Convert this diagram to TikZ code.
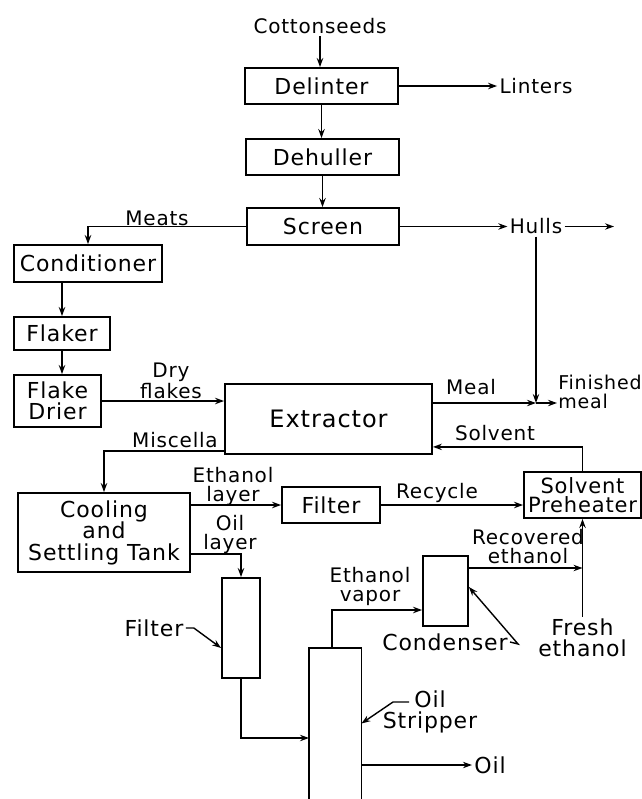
\documentclass[tikz,border=0pt]{standalone}
\usepackage{fontspec}
\setmainfont{DejaVu Sans}[LetterSpace=4]
\usetikzlibrary{arrows.meta,positioning}

\begin{document}
\begin{tikzpicture}[x=0.5pt, y=-0.5pt,
  font=\fontsize{10}{9.5}\selectfont,
  unit/.style={draw, line width=0.9pt, inner sep=1pt, align=center, font=\fontsize{11}{10.75}\selectfont},
  lbl/.style={inner sep=1pt, align=center},
  arr/.style={-{Stealth[length=4.5pt,width=3.2pt]}, line width=0.7pt},
  flow/.style={line width=0.7pt}
]
\useasboundingbox (0,0) rectangle (642,799);

% process units
\node[unit, minimum width=76.5pt, minimum height=18pt] (delint) at (321.5,86) {Delinter};
\node[unit, minimum width=76.5pt, minimum height=18pt] (dehull) at (322.5,157) {Dehuller};
\node[unit, minimum width=76pt, minimum height=18.5pt] (screen) at (323,226.5) {Screen};
\node[unit, minimum width=74pt, minimum height=18.5pt] (cond) at (88,263.5) {Conditioner};
\node[unit, minimum width=48pt, minimum height=16.5pt] (flaker) at (62,333.5) {Flaker};
\node[unit, minimum width=43.5pt, minimum height=26pt] (drier) at (57.5,401) {Flake\\Drier};
\node[unit, minimum width=103.5pt, minimum height=35pt, font=\fontsize{12}{12}\selectfont] (extr) at (328.5,419) {Extractor};
\node[unit, minimum width=86pt, minimum height=39.5pt] (cool) at (104,532.5) {Cooling\\and\\Settling Tank};
\node[unit, minimum width=49pt, minimum height=18pt] (filt) at (331,505) {Filter};
\node[unit, minimum width=58.5pt, minimum height=23pt, font=\fontsize{10.5}{9.5}\selectfont] (preheat) at (582.5,495) {Solvent\\Preheater};
\node[unit, minimum width=19pt, minimum height=50pt] (filt2) at (241,628) {};
\node[unit, minimum width=22.5pt, minimum height=35pt] (cond2) at (445.5,591) {};
\node[minimum width=26pt, minimum height=75.5pt, inner sep=0pt] (strip) at (335,723.5) {};
\draw[line width=0.9pt] (strip.south west) -- (strip.north west) -- (strip.north east) -- (strip.south east);

% stream labels
\node[lbl] (seeds) at (320,26) {Cottonseeds};
\node[lbl] (lint) at (536,86) {Linters};
\node[lbl] (meats) at (157,218) {Meats};
\node[lbl] (hulls) at (536,226.5) {Hulls};
\node[lbl] (dry) at (171,381) {Dry\\flakes};
\node[lbl] (meal) at (471,387) {Meal};
\node[lbl, anchor=west, align=left, inner sep=0.5pt, font=\fontsize{9.5}{9.5}\selectfont] (fmeal) at (557,392) {Finished\\meal};
\node[lbl] (solv) at (495,433) {Solvent};
\node[lbl] (misc) at (175,440) {Miscella};
\node[lbl] (ethl) at (233,486) {Ethanol\\layer};
\node[lbl] (recy) at (437,493) {Recycle};
\node[lbl] (oill) at (230,534) {Oil\\layer};
\node[lbl] (recov) at (528,547) {Recovered\\ethanol};
\node[lbl] (vapor) at (370,586) {Ethanol\\vapor};
\node[lbl, font=\fontsize{11}{10.5}\selectfont] (filtlab) at (154,628) {Filter};
\node[lbl, font=\fontsize{11}{10.5}\selectfont] (fresh) at (582.5,638) {Fresh\\ethanol};
\node[lbl, font=\fontsize{11}{10.5}\selectfont] (condlab) at (445,642) {Condenser};
\node[lbl, font=\fontsize{11}{10.5}\selectfont] (striplab) at (430,712) {Oil\\Stripper};
\node[lbl, font=\fontsize{11}{10.5}\selectfont] (oil) at (490,765) {Oil};

\coordinate (hout) at (614,226.5);
\coordinate (jmeal) at (536,403);
\coordinate (rec) at (582.5,568);
\coordinate (oilin) at (309,738);
\coordinate (vapout) at (332,648);
\coordinate (oiltick) at (409,702);

% main line
\draw[arr] (seeds.south) -- (delint.north -| seeds.south);
\draw[arr] (delint.east) -- (lint);
\draw[arr] (delint.south) -- (dehull.north -| delint.south);
\draw[arr] (dehull) -- (screen.north -| dehull);
\draw[arr] (screen) -- (hulls);
\draw[arr] (hulls) -- (hout);
\draw[arr] (screen.west) -| (cond.north);
\draw[arr] (cond.south -| flaker) -- (flaker.north);
\draw[arr] (flaker.south) -- (drier.north -| flaker.south);
\draw[arr] (drier) -- (drier -| extr.west);

% meal and solvent
\draw[arr] (hulls.south) -- (jmeal);
\draw[arr] (jmeal -| extr.east) -- (jmeal);
\draw[arr] (jmeal) -- (jmeal -| fmeal.west);
\draw[arr] (preheat.north) |- ([yshift=4pt]extr.south east);
\draw[arr] ([yshift=2pt]extr.south west) -| (cool.north);

% miscella work-up
\draw[arr] (filt.west -| cool.east) -- (filt.west);
\draw[arr] (filt.east) -- (filt.east -| preheat.west);
\draw[arr] ([yshift=9.5pt]cool.south east) -| (filt2.north);
\draw[arr] (filtlab.east) -- ++(8,0) -- ([yshift=-10pt]filt2.west);
\draw[arr] (filt2.south) |- (oilin);
\draw[arr] (vapout) |- ([yshift=-9.5pt]cond2.west);
\draw[arr] ([yshift=11.5pt]cond2.east) -- (rec);
\draw[arr] (fresh.north) -- (preheat.south);
\draw[arr] (condlab.east) -- ++(8,2) -- ([yshift=2pt]cond2.east);
\draw[arr] (oiltick) -- ++(-16,0) -- (strip.east);
\draw[arr] (oil.west -| strip.east) -- (oil.west);
\end{tikzpicture}
\end{document}
